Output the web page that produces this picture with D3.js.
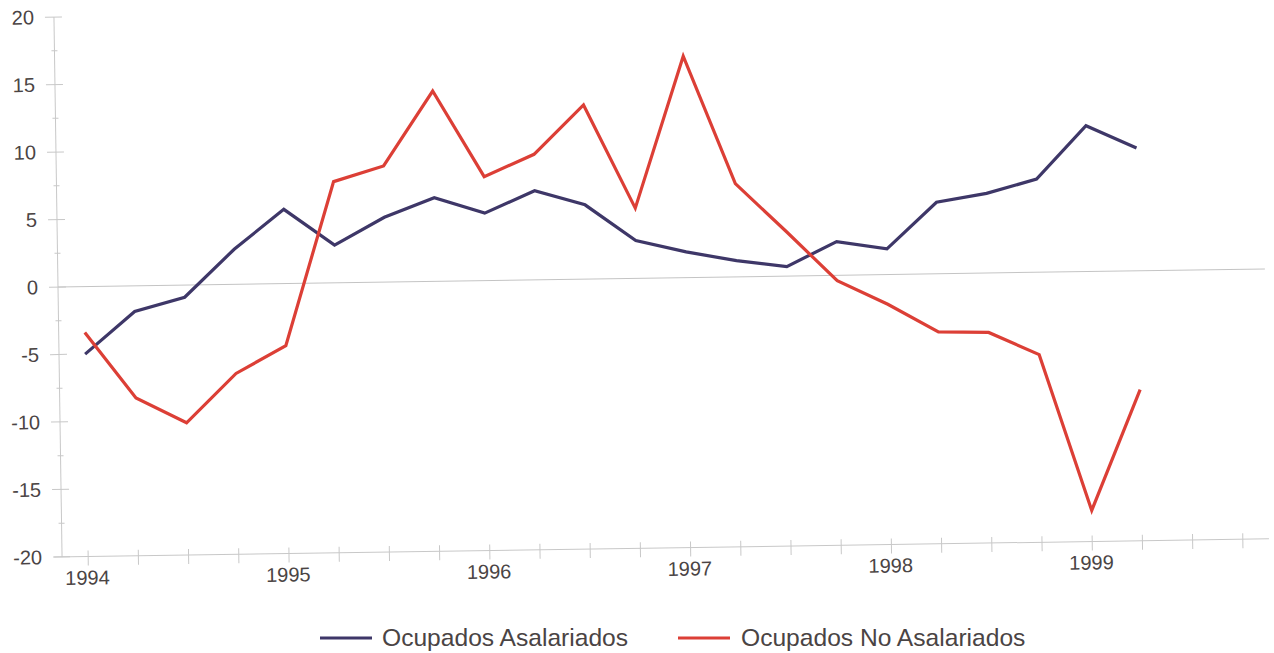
<!DOCTYPE html>
<html>
<head>
<meta charset="utf-8">
<script src="https://cdn.jsdelivr.net/npm/d3@7"></script>
<style>
  body { margin: 0; background: #fff; }
  text { font-family: "Liberation Sans", Arial, sans-serif; fill: #4a4444; }
</style>
</head>
<body>
<div id="chart"></div>
<script>
// trimestres 1994 I - 1999 II
var trimestres = [1994, 1994.25, 1994.5, 1994.75,
                  1995, 1995.25, 1995.5, 1995.75,
                  1996, 1996.25, 1996.5, 1996.75,
                  1997, 1997.25, 1997.5, 1997.75,
                  1998, 1998.25, 1998.5, 1998.75,
                  1999, 1999.25];

var asalariados = [-5.0, -1.9, -0.9, 2.6, 5.5, 2.8, 4.8, 6.2, 5.0, 6.6, 5.5, 2.8,
                   1.9, 1.2, 0.7, 2.5, 1.9, 5.3, 5.9, 6.9, 10.8, 9.1];

var noAsalariados = [-3.4, -8.3, -10.2, -6.6, -4.6, 7.5, 8.6, 14.1, 7.7, 9.3, 12.9, 5.2,
                     16.4, 6.9, 3.3, -0.4, -2.2, -4.3, -4.4, -6.1, -17.7, -8.8];

var yTicks = [-20, -15, -10, -5, 0, 5, 10, 15, 20];
var yMinor = [-17.5, -12.5, -7.5, -2.5, 2.5, 7.5, 12.5, 17.5];
var xTicks = [1994, 1994.25, 1994.5, 1994.75, 1995, 1995.25, 1995.5, 1995.75,
              1996, 1996.25, 1996.5, 1996.75, 1997, 1997.25, 1997.5, 1997.75,
              1998, 1998.25, 1998.5, 1998.75, 1999, 1999.25, 1999.5, 1999.75];
var yearLabels = [1994, 1995, 1996, 1997, 1998, 1999];

var series = [
  { name: "Ocupados Asalariados", values: asalariados, color: "#3e3768" },
  { name: "Ocupados No Asalariados", values: noAsalariados, color: "#dc3f36" }
];

var width = 1274, height = 653;
var axisX = 58, axisY = 557, plotRight = 1265;

var svg = d3.select("#chart")
  .append("svg")
    .attr("width", width)
    .attr("height", height);

var x = d3.scaleLinear().domain([1993.87, 1999.88]).range([axisX, plotRight]);
var y = d3.scaleLinear().domain([-20, 20]).range([557, 17]);

// the scanned page is slightly tilted
var g = svg.append("g")
    .attr("transform", "rotate(-0.86," + axisX + "," + y(0) + ")");

// zero line
g.append("line")
    .attr("x1", axisX).attr("x2", plotRight)
    .attr("y1", y(0)).attr("y2", y(0))
    .style("stroke", "#c4c4c4").style("stroke-width", 1);

// y axis
var yAxis = g.append("g").attr("transform", "translate(" + axisX + ",0)");
yAxis.append("line")
    .attr("y1", y(20)).attr("y2", y(-20))
    .style("stroke", "#c8c8c8");
yAxis.selectAll(".major").data(yTicks).enter().append("line")
    .attr("x1", -9).attr("x2", 8)
    .attr("y1", d => y(d)).attr("y2", d => y(d))
    .style("stroke", "#c8c8c8");
yAxis.selectAll(".minor").data(yMinor).enter().append("line")
    .attr("x1", -3).attr("x2", 3)
    .attr("y1", d => y(d)).attr("y2", d => y(d))
    .style("stroke", "#c8c8c8");
yAxis.selectAll("text").data(yTicks).enter().append("text")
    .attr("x", -20)
    .attr("y", d => y(d))
    .attr("dy", "0.35em")
    .attr("text-anchor", "end")
    .style("font-size", "20px")
    .text(d => d);

// x axis
var xAxis = g.append("g").attr("transform", "translate(0," + axisY + ")");
xAxis.append("line")
    .attr("x1", axisX - 8).attr("x2", plotRight)
    .style("stroke", "#c8c8c8");
xAxis.selectAll(".tick").data(xTicks).enter().append("line")
    .attr("x1", d => x(d)).attr("x2", d => x(d))
    .attr("y1", -6).attr("y2", 9)
    .style("stroke", "#c8c8c8");
xAxis.selectAll("text").data(yearLabels).enter().append("text")
    .attr("x", d => x(d) - 1)
    .attr("y", 28)
    .attr("text-anchor", "middle")
    .style("font-size", "20px")
    .text(d => d);

// lines
var line = d3.line()
    .x((d, i) => x(trimestres[i]))
    .y(d => y(d));

g.selectAll(".serie").data(series).enter().append("path")
    .attr("d", d => line(d.values))
    .style("fill", "none")
    .style("stroke", d => d.color)
    .style("stroke-width", 3.2)
    .style("stroke-linejoin", "miter");

// legend
var legendPos = [[320, 382], [678, 741]];
var legend = svg.selectAll(".legend").data(series).enter().append("g");
legend.append("line")
    .attr("x1", (d, i) => legendPos[i][0])
    .attr("x2", (d, i) => legendPos[i][0] + 52)
    .attr("y1", 638).attr("y2", 638)
    .style("stroke", d => d.color)
    .style("stroke-width", 3);
legend.append("text")
    .attr("x", (d, i) => legendPos[i][1])
    .attr("y", 646)
    .style("font-size", "24.6px")
    .text(d => d.name);
</script>
</body>
</html>
